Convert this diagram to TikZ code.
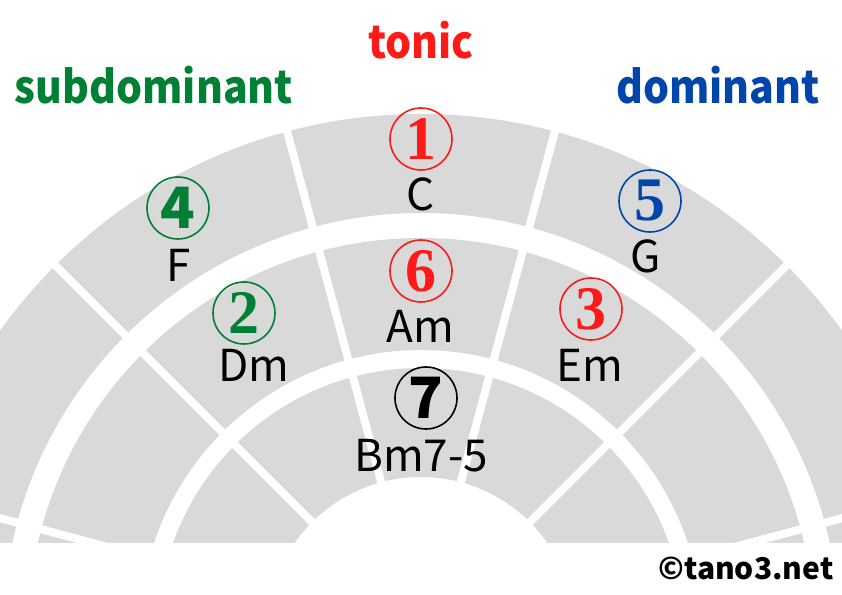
\documentclass[tikz,border=0pt]{standalone}
\usepackage{fontspec}
\setmainfont{Noto Sans CJK JP}
\newfontfamily\digitserif{Liberation Serif}
\newfontfamily\titlefont{Noto Sans CJK JP}[FakeStretch=0.91]
\definecolor{tonicred}{RGB}{255,26,26}
\definecolor{subgreen}{RGB}{0,128,52}
\definecolor{domblue}{RGB}{0,70,170}
\definecolor{ringgray}{RGB}{217,217,217}
\begin{document}
\begin{tikzpicture}[x=1bp, y=1bp,
    chord/.style={anchor=base, font=\fontsize{44bp}{44bp}\selectfont},
    degree/.style={circle, draw, line width=1.6bp, minimum size=62bp, inner sep=0pt,
        font=\digitserif\bfseries\fontsize{62bp}{62bp}\selectfont},
    degreesans/.style={degree, font=\bfseries\fontsize{57bp}{57bp}\selectfont},
    function/.style={anchor=base, font=\titlefont\bfseries\fontsize{45bp}{45bp}\selectfont}]
        \useasboundingbox (-421,36) rectangle (421,631);
        \begin{scope}
        \clip (-421,88) rectangle (421,631);
        \fill[ringgray, even odd rule] (0,0) circle (517bp) (0,0) circle (418bp);
        \fill[ringgray, even odd rule] (0,0) circle (393bp) (0,0) circle (281bp);
        \fill[ringgray, even odd rule] (0,0) circle (263bp) (0,0) circle (154bp);
        \draw[white, line width=8bp] (0,0) -- (15:540);
        \draw[white, line width=8bp] (0,0) -- (45:540);
        \draw[white, line width=8bp] (0,0) -- (75:540);
        \draw[white, line width=8bp] (0,0) -- (105:540);
        \draw[white, line width=8bp] (0,0) -- (135:540);
        \draw[white, line width=8bp] (0,0) -- (165:540);
        \end{scope}
        % functions
        \node[function, tonicred] (tonic) at (0,572) {tonic};
        \node[function, subgreen] (subdominant) at (-267,527) {subdominant};
        \node[function, domblue] (dominant) at (297,527) {dominant};
        % degrees
        \node[degree, draw=tonicred, text=tonicred] (one) at (0,492) {1};
        \node[degree, draw=tonicred, text=tonicred] (six) at (0,360) {6};
        \node[degreesans, draw=black] (seven) at (5,233) {7};
        \node[degreesans, draw=subgreen, text=subgreen] (four) at (-243,423) {4};
        \node[degree, draw=subgreen, text=subgreen] (two) at (-177,318) {2};
        \node[degree, draw=domblue, text=domblue] (five) at (229,430) {5};
        \node[degree, draw=tonicred, text=tonicred] (three) at (170,322) {3};
        % chords
        \node[chord] (C) at (0,420) {C};
        \node[chord] (Am) at (-1,288) {Am};
        \node[chord] (Bm) at (0,159) {Bm7-5};
        \node[chord] (F) at (-242,349) {F};
        \node[chord] (Dm) at (-167,249) {Dm};
        \node[chord] (G) at (225,358) {G};
        \node[chord] (Em) at (169,249) {Em};
        \node[anchor=base, font=\bfseries\fontsize{30bp}{30bp}\selectfont] (credit) at (325,51) {©tano3.net};
    \end{tikzpicture}
\end{document}
